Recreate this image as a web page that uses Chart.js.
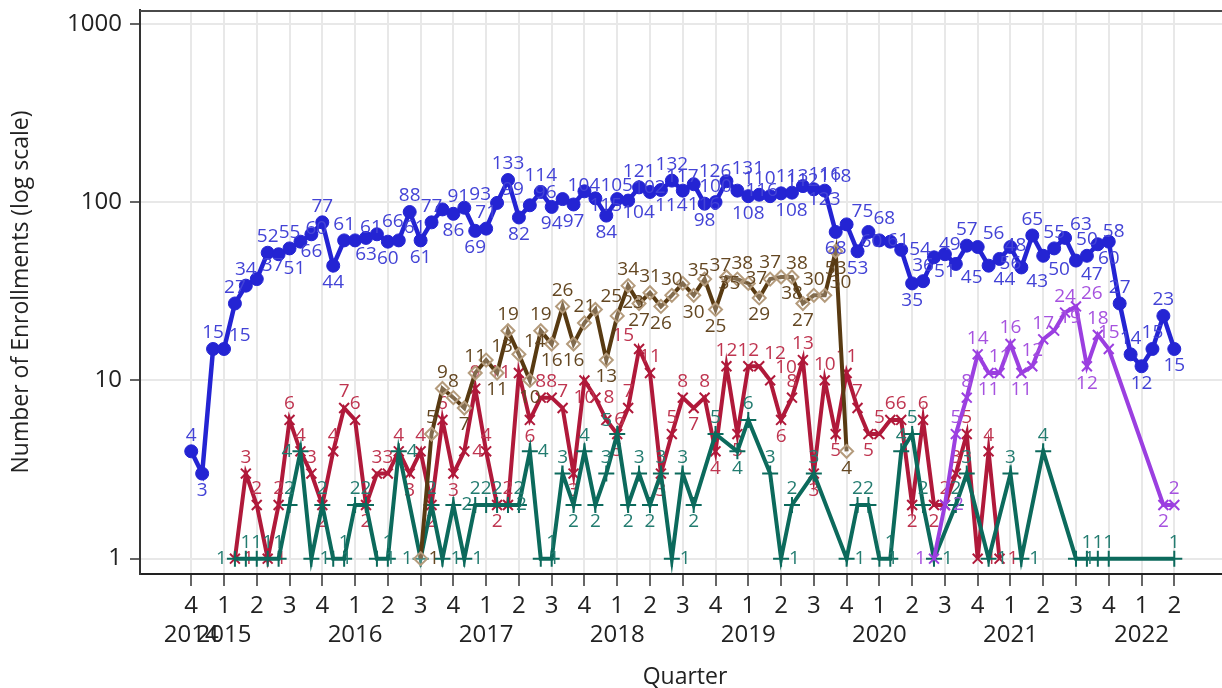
<!DOCTYPE html>
<html>
<head>
<meta charset="utf-8">
<script src="https://cdn.jsdelivr.net/npm/chart.js@4.4.1/dist/chart.umd.min.js"></script>
<style>
  html, body { margin: 0; padding: 0; background: #ffffff; overflow: hidden; }
  #wrap { position: relative; width: 1240px; height: 688px; }
</style>
</head>
<body>
<div id="wrap"><canvas id="chart" width="1240" height="688"></canvas></div>
<script>
// ---------------- DATA (monthly, month 0 = first month of 2014 Q4) ----------------
const quarterTickMonths = [0,3,6,9,12,15,18,21,24,27,30,33,36,39,42,45,48,51,54,57,60,63,66,69,72,75,78,81,84,87,90];
const quarterLabels = ['4','1','2','3','4','1','2','3','4','1','2','3','4','1','2','3','4','1','2','3','4','1','2','3','4','1','2','3','4','1','2'];
const yearLabels    = ['2014','2015','','','','2016','','','','2017','','','','2018','','','','2019','','','','2020','','','','2021','','','','2022',''];
const yTickValues = [1, 10, 100, 1000];
const yTickLabels = ['1', '10', '100', '1000'];

// blue series (circles), starts at month 0
const blueStart = 0;
const blueValues = [4,3,15,15,27,34,37,52,51,55,
  60,66,77,44,61,61,63,66,60,61,
  88,61,77,91,86,93,69,71,99,133,
  82,96,114,94,104,97,115,105,84,104,
  102,121,114,117,132,116,126,98,100,131,
  116,108,110,108,112,113,123,118,116,68,
  75,53,68,61,60,54,35,36,49,51,
  45,57,56,44,48,56,43,65,50,55,
  63,47,50,58,60,27,14,12,15,23,
  15];

// brown series (diamonds), starts at month 21
const brownStart = 21;
const brownValues = [1,5,9,8,7,11,13,11,19,14,
  10,19,16,26,16,21,25,13,23,34,
  27,31,26,30,35,30,37,25,38,37,
  35,29,37,38,38,27,30,30,53,4];

// red series (x markers), starts at month 4
const redStart = 4;
const redValues = [1,3,2,1,2,6,4,3,2,4,
  7,6,2,3,3,4,3,4,2,6,
  3,4,9,4,2,2,11,6,8,8,
  7,3,10,8,6,5,7,15,11,3,
  5,8,7,8,4,12,5,12,12,10,
  6,8,13,3,10,5,11,7,5,5,
  6,6,2,6,2,2,3,5,1,4,
  1];

// green series (+ markers), starts at month 4 (null = no value that month)
const greenStart = 4;
const greenValues = [1,1,1,1,1,2,4,1,2,1,
  1,2,2,1,1,4,null,1,2,1,
  2,1,2,2,2,2,2,4,1,1,
  3,2,4,2,3,5,2,3,2,3,
  1,3,2,null,5,null,4,6,null,3,
  1,2,null,3,null,null,1,2,2,1,
  1,4,5,2,1,null,2,3,null,1,
  null,3,1,null,4,null,null,1,1,1,
  1,null,null,null,null,null,1];

// purple series (x markers), starts at month 68
const purpleStart = 68;
const purpleValues = [1,2,5,8,14,11,11,16,11,12,17,19,24,26,12,18,15,null,null,null,null,2,2];

// ---------------- BUILD ----------------
function toPoints(start, values) {
  return values.map((v, i) => ({ x: start + i, y: v }));
}

const FONT = '"Open Sans", "Noto Sans", "DejaVu Sans", sans-serif';

const datasets = [
  { key:'blue', data: toPoints(blueStart, blueValues), borderColor:'#2424d3', backgroundColor:'#2424d3',
    borderWidth:4.5, pointStyle:'circle', pointRadius:6.5, pointBackgroundColor:'#2424d3', pointBorderColor:'#2424d3',
    pointBorderWidth:1, labelColor:'#4343d6' },
  { key:'purple', data: toPoints(purpleStart, purpleValues), borderColor:'#9b3fe0', backgroundColor:'#9b3fe0',
    borderWidth:4, pointStyle:'crossRot', pointRadius:7, pointBorderColor:'#9b3fe0', pointBorderWidth:2,
    labelColor:'#a652df' },
  { key:'brown', data: toPoints(brownStart, brownValues), borderColor:'#583a12', backgroundColor:'#583a12',
    borderWidth:4, pointStyle:'rectRot', pointRadius:6.5, pointBackgroundColor:'rgba(255,255,255,0.25)',
    pointBorderColor:'#b49b7c', pointBorderWidth:2, labelColor:'#644722' },
  { key:'green', data: toPoints(greenStart, greenValues), borderColor:'#0c6a5c', backgroundColor:'#0c6a5c',
    borderWidth:4, pointStyle:'cross', pointRadius:8, pointBorderColor:'#0c6a5c', pointBorderWidth:2,
    labelColor:'#237c70' },
  { key:'red', data: toPoints(redStart, redValues), borderColor:'#b0193a', backgroundColor:'#b0193a',
    borderWidth:4, pointStyle:'crossRot', pointRadius:7, pointBorderColor:'#b0193a', pointBorderWidth:2,
    labelColor:'#bf3550' }
].map(d => Object.assign({ spanGaps: true, tension: 0, fill: false, pointHoverRadius: 0 }, d));

// frame line on top of plot area
const framePlugin = {
  id: 'frameTop',
  beforeDatasetsDraw(chart) {
    const { ctx, chartArea } = chart;
    ctx.save();
    ctx.strokeStyle = '#4a4a4a';
    ctx.lineWidth = 2;
    ctx.beginPath();
    ctx.moveTo(chartArea.left, chartArea.top + 1);
    ctx.lineTo(chartArea.right, chartArea.top + 1);
    ctx.stroke();
    ctx.restore();
  }
};

// data labels with simple collision avoidance
const LABEL_FONT = '19px ' + FONT;
const labelPlugin = {
  id: 'pointLabels',
  beforeDatasetsDraw(chart) {
    const ctx = chart.ctx;
    const area = chart.chartArea;
    ctx.save();
    ctx.font = LABEL_FONT;
    const placed = [];
    const result = {};
    const placeOrder = [0, 2, 4, 3, 1];
    const H = 14;
    const overlap = (a, b) => a.x1 < b.x2 && a.x2 > b.x1 && a.y1 < b.y2 && a.y2 > b.y1;
    for (const di of placeOrder) {
      const ds = chart.data.datasets[di];
      const meta = chart.getDatasetMeta(di);
      const list = [];
      ds.data.forEach((d, i) => {
        if (d.y == null) return;
        const el = meta.data[i];
        let prev = null, next = null;
        for (let j = i - 1; j >= 0; j--) if (ds.data[j].y != null) { prev = ds.data[j].y; break; }
        for (let j = i + 1; j < ds.data.length; j++) if (ds.data[j].y != null) { next = ds.data[j].y; break; }
        const isMin = (prev == null || d.y < prev) && (next == null || d.y <= next);
        const text = String(d.y);
        const w = ctx.measureText(text).width;
        const up = [[0, -16], [w / 2 + 5, -13], [-(w / 2 + 5), -13]];
        const down = [[0, 17], [w / 2 + 5, 14], [-(w / 2 + 5), 14]];
        const side = [[w / 2 + 8, 0], [-(w / 2 + 8), 0]];
        const cands = isMin ? down.concat(side, up) : up.concat(side, down);
        let chosen = null;
        let fallback = null;
        for (const c of cands) {
          const cx = el.x + c[0], cy = el.y + c[1];
          const b = { x1: cx - w / 2, x2: cx + w / 2, y1: cy - H / 2, y2: cy + H / 2 };
          const inside = b.y2 <= area.bottom - 1 && b.y1 >= area.top + 1 && b.x1 >= area.left + 1;
          if (!inside) continue;
          if (!fallback) fallback = { cx, cy, b };
          if (!placed.some(p => overlap(p, b))) { chosen = { cx, cy, b }; break; }
        }
        if (!chosen) chosen = fallback;
        if (!chosen) return;
        placed.push(chosen.b);
        list.push({ x: chosen.cx, y: chosen.cy, text });
      });
      result[di] = list;
    }
    chart.$pointLabels = result;
    ctx.restore();
  },
  afterDatasetDraw(chart, args) {
    const list = chart.$pointLabels && chart.$pointLabels[args.index];
    if (!list) return;
    const ctx = chart.ctx;
    const ds = chart.data.datasets[args.index];
    ctx.save();
    ctx.beginPath();
    ctx.rect(chart.chartArea.left, chart.chartArea.top, chart.chartArea.right - chart.chartArea.left, chart.chartArea.bottom - chart.chartArea.top);
    ctx.clip();
    ctx.font = LABEL_FONT;
    ctx.fillStyle = ds.labelColor;
    ctx.textAlign = 'center';
    ctx.textBaseline = 'middle';
    for (const l of list) ctx.fillText(l.text, l.x, l.y);
    ctx.restore();
  }
};

new Chart(document.getElementById('chart'), {
  type: 'line',
  data: { datasets },
  options: {
    responsive: false,
    animation: false,
    devicePixelRatio: 1,
    layout: { padding: { top: 4, right: 4, left: 0, bottom: 0 } },
    plugins: { legend: { display: false }, tooltip: { enabled: false }, title: { display: false } },
    events: [],
    scales: {
      x: {
        type: 'linear',
        position: 'bottom',
        min: -4.69,
        max: 95.1,
        afterBuildTicks: s => { s.ticks = quarterTickMonths.map(v => ({ value: v })); },
        afterFit: s => { s.height = 114; s.paddingLeft = 0; s.paddingRight = 0; },
        ticks: {
          autoSkip: false,
          maxRotation: 0,
          minRotation: 0,
          padding: 6,
          color: '#222',
          font: { family: FONT, size: 24, lineHeight: 1.2 },
          callback: (v, i) => yearLabels[i] ? [quarterLabels[i], yearLabels[i]] : quarterLabels[i]
        },
        grid: { color: '#e8e8e8', lineWidth: 2, tickLength: 12, tickColor: '#333', tickWidth: 1.5, drawTicks: true },
        border: { color: '#222', width: 2 },
        title: { display: true, text: 'Quarter', color: '#222', font: { family: FONT, size: 23, lineHeight: 1.2 }, padding: { top: 0, bottom: -3 } }
      },
      y: {
        type: 'logarithmic',
        position: 'left',
        min: 0.82,
        max: 1196,
        afterBuildTicks: s => { s.ticks = yTickValues.map(v => ({ value: v })); },
        afterFit: s => { s.width = 140; s.paddingTop = 0; s.paddingBottom = 0; },
        ticks: {
          padding: 8,
          color: '#222',
          font: { family: FONT, size: 24, lineHeight: 1.2 },
          callback: (v, i) => yTickLabels[i]
        },
        grid: { color: '#e8e8e8', lineWidth: 2, tickLength: 10, tickColor: '#333', tickWidth: 1.5, drawTicks: true },
        border: { color: '#333', width: 2 },
        title: { display: true, text: 'Number of Enrollments (log scale)', color: '#222', font: { family: FONT, size: 23, lineHeight: 1.2 }, padding: { top: 8, bottom: 0 } }
      }
    }
  },
  plugins: [framePlugin, labelPlugin]
});
</script>
</body>
</html>
